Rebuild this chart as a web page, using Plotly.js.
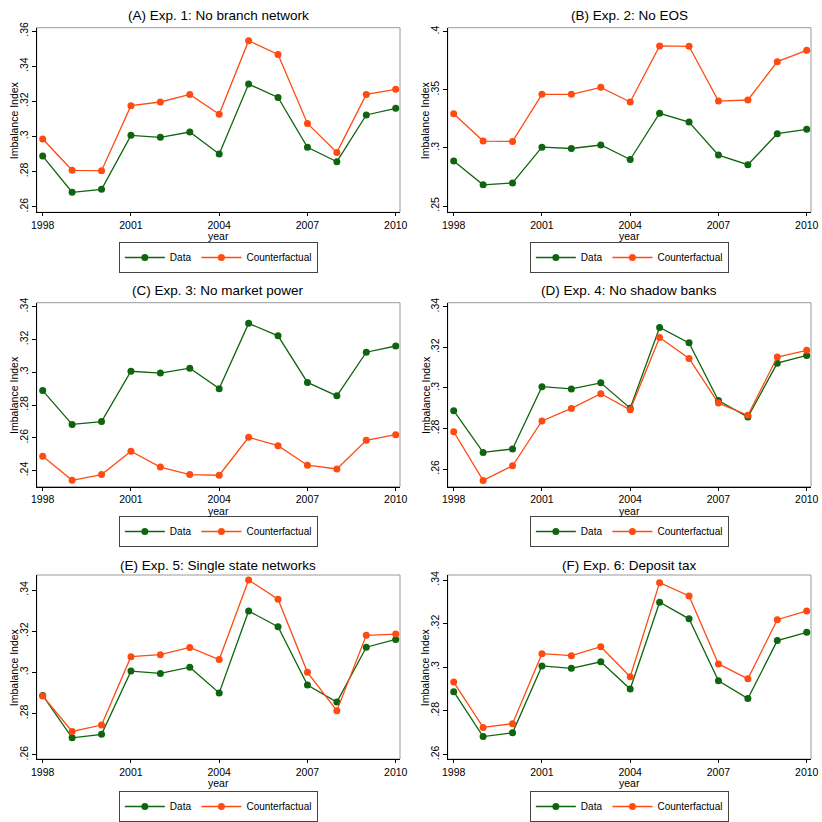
<!DOCTYPE html>
<html>
<head>
<meta charset="utf-8">
<script src="https://cdn.plot.ly/plotly-3.0.1.min.js"></script>
<style>
  html, body { margin: 0; padding: 0; background: #fff; }
  #chart { width: 822px; height: 822px; }
</style>
</head>
<body>
<div id="chart"></div>
<script>
// Valores (índice de desbalance por año)
const years = [1998, 1999, 2000, 2001, 2002, 2003, 2004, 2005, 2006, 2007, 2008, 2009, 2010];
const dataSeries = [0.2888, 0.2682, 0.2699, 0.3006, 0.2995, 0.3025, 0.2900, 0.3298, 0.3222, 0.2938, 0.2856, 0.3122, 0.3160];

const cfA = [0.2985, 0.2807, 0.2805, 0.3175, 0.3196, 0.3239, 0.3126, 0.3545, 0.3467, 0.3074, 0.2909, 0.3239, 0.3268];
const cfB = [0.3294, 0.3059, 0.3056, 0.3461, 0.3461, 0.3521, 0.3395, 0.3877, 0.3874, 0.3403, 0.3412, 0.3742, 0.3839];
const cfC = [0.2487, 0.2341, 0.2376, 0.2518, 0.2422, 0.2376, 0.2372, 0.2603, 0.2552, 0.2433, 0.2410, 0.2585, 0.2619];
const cfD = [0.2784, 0.2544, 0.2616, 0.2837, 0.2899, 0.2971, 0.2892, 0.3249, 0.3145, 0.2925, 0.2865, 0.3152, 0.3185];
const cfE = [0.2885, 0.2713, 0.2744, 0.3076, 0.3086, 0.3121, 0.3062, 0.3449, 0.3355, 0.3000, 0.2814, 0.3180, 0.3186];
const cfF = [0.2932, 0.2724, 0.2741, 0.3062, 0.3053, 0.3094, 0.2956, 0.3388, 0.3327, 0.3015, 0.2947, 0.3218, 0.3258];

const panelTitles = [
  '(A) Exp. 1: No branch network',
  '(B) Exp. 2: No EOS',
  '(C) Exp. 3: No market power',
  '(D) Exp. 4: No shadow banks',
  '(E) Exp. 5: Single state networks',
  '(F) Exp. 6: Deposit tax'
];

const xTickVals = [1998, 2001, 2004, 2007, 2010];

const yTicksA = [0.26, 0.28, 0.30, 0.32, 0.34, 0.36];
const yTicksB = [0.25, 0.30, 0.35, 0.40];
const yTicksC = [0.24, 0.26, 0.28, 0.30, 0.32, 0.34];
const yTicksD = [0.26, 0.28, 0.30, 0.32, 0.34];
const yTicksE = [0.26, 0.28, 0.30, 0.32, 0.34];
const yTicksF = [0.26, 0.28, 0.30, 0.32, 0.34];

const seriesNames = ['Data', 'Counterfactual'];
const yTitle = 'Imbalance Index';
const xTitle = 'year';

// Estilo Stata: quita el cero inicial (.3, .25)
function stataLabel(v) {
  return String(+v.toFixed(2)).replace(/^0/, '');
}

const W = 822;
const H = 822;
const colX = [[36.7, 400], [447.7, 811]];
const rowY = [[27.7, 212.3], [302.7, 486.7], [575, 759]];
const titleY = [16, 290.7, 565];
const legendTop = [242, 516, 791];

const panels = [
  { cf: cfA, ticks: yTicksA, range: [0.2568, 0.3619] },
  { cf: cfB, ticks: yTicksB, range: [0.2446, 0.4034] },
  { cf: cfC, ticks: yTicksC, range: [0.2302, 0.3424] },
  { cf: cfD, ticks: yTicksD, range: [0.2513, 0.3420] },
  { cf: cfE, ticks: yTicksE, range: [0.2579, 0.3473] },
  { cf: cfF, ticks: yTicksF, range: [0.2579, 0.3423] }
];

const green = '#0f650f';
const orange = '#ff4b12';
const font = 'Liberation Sans, Arial, sans-serif';

const traces = [];
const layout = {
  width: W,
  height: H,
  margin: { l: 0, r: 0, t: 0, b: 0 },
  paper_bgcolor: '#fff',
  plot_bgcolor: '#fff',
  font: { family: font, color: '#000' },
  annotations: [],
  shapes: []
};

panels.forEach((p, i) => {
  const col = i % 2;
  const row = Math.floor(i / 2);
  const suffix = i === 0 ? '' : String(i + 1);
  const xa = 'x' + suffix;
  const ya = 'y' + suffix;
  const legendName = 'legend' + suffix;
  const xd = [colX[col][0] / W, colX[col][1] / W];
  const yd = [1 - rowY[row][1] / H, 1 - rowY[row][0] / H];

  traces.push({
    x: years, y: dataSeries, xaxis: xa, yaxis: ya,
    type: 'scatter', mode: 'lines+markers', name: seriesNames[0],
    legend: legendName,
    line: { color: green, width: 1.3 },
    marker: { color: green, size: 7 }
  });
  traces.push({
    x: years, y: p.cf, xaxis: xa, yaxis: ya,
    type: 'scatter', mode: 'lines+markers', name: seriesNames[1],
    legend: legendName,
    line: { color: orange, width: 1.3 },
    marker: { color: orange, size: 7 }
  });

  layout['xaxis' + suffix] = {
    domain: xd,
    anchor: ya,
    range: [1997.796, 2010.146],
    tickvals: xTickVals,
    ticks: 'outside',
    ticklen: 3,
    tickcolor: '#000',
    tickfont: { size: 10.5, family: font },
    showline: true,
    linecolor: '#000',
    linewidth: 1,
    showgrid: false,
    zeroline: false
  };
  layout['yaxis' + suffix] = {
    domain: yd,
    anchor: xa,
    range: p.range,
    tickvals: p.ticks,
    ticktext: p.ticks.map(stataLabel),
    tickangle: -90,
    ticks: 'outside',
    ticklen: 4,
    tickcolor: '#000',
    tickfont: { size: 10.5, family: font },
    showline: true,
    linecolor: '#000',
    linewidth: 1,
    showgrid: false,
    zeroline: false
  };

  // Borde gris del área de trazado (lados superior y derecho)
  layout.shapes.push({
    type: 'rect', xref: xa + ' domain', yref: ya + ' domain',
    x0: 0, x1: 1, y0: 0, y1: 1,
    line: { color: '#9a9a9a', width: 1 }, layer: 'below'
  });

  layout.annotations.push({
    text: panelTitles[i],
    xref: 'paper', yref: 'paper',
    x: (xd[0] + xd[1]) / 2, y: 1 - titleY[row] / H,
    xanchor: 'center', yanchor: 'middle',
    showarrow: false,
    font: { size: 13.5, family: font, color: '#000' }
  });
  // Títulos de ejes
  layout.annotations.push({
    text: xTitle,
    xref: 'paper', yref: 'paper',
    x: (xd[0] + xd[1]) / 2, y: 1 - (rowY[row][1] + 24) / H,
    xanchor: 'center', yanchor: 'middle',
    showarrow: false,
    font: { size: 10.5, family: font, color: '#000' }
  });
  layout.annotations.push({
    text: yTitle,
    xref: 'paper', yref: 'paper',
    x: (colX[col][0] - 22.5) / W, y: (yd[0] + yd[1]) / 2,
    xanchor: 'center', yanchor: 'middle',
    textangle: -90,
    showarrow: false,
    font: { size: 10.5, family: font, color: '#000' }
  });

  layout[legendName] = {
    orientation: 'h',
    x: (xd[0] + xd[1]) / 2,
    xanchor: 'center',
    y: 1 - legendTop[row] / H,
    yanchor: 'top',
    bgcolor: '#fff',
    bordercolor: '#444',
    borderwidth: 1,
    itemwidth: 40,
    font: { size: 10, family: font, color: '#000' }
  };
});

Plotly.newPlot('chart', traces, layout, { displayModeBar: false, staticPlot: true });
</script>
</body>
</html>
